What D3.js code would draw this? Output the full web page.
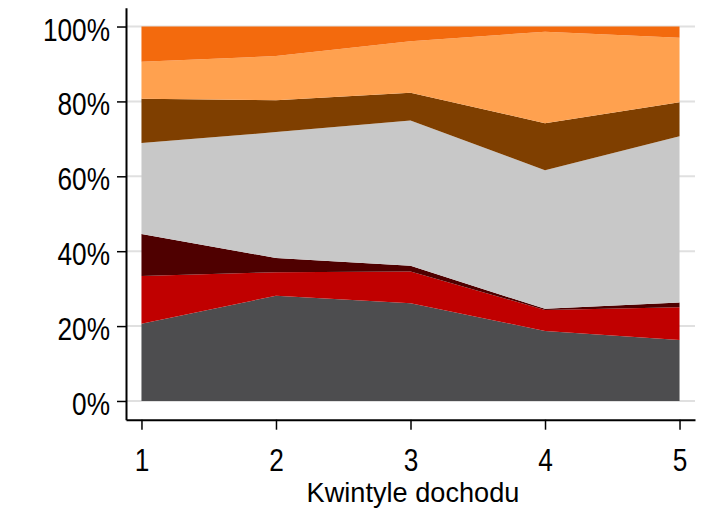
<!DOCTYPE html>
<html><head><meta charset="utf-8">
<script src="https://cdn.jsdelivr.net/npm/d3@7"></script>
<style>body{margin:0;background:#fff}svg{display:block}text{font-family:"Liberation Sans",Arial,sans-serif;fill:#000}</style>
</head><body><svg id="c" width="718" height="518"></svg>
<script>
const quintiles = [1, 2, 3, 4, 5];
const seriesNames = ["s1", "s2", "s3", "s4", "s5", "s6", "s7"];
const s1 = [20.6, 28.1, 26.1, 18.7, 16.3];
const s2 = [12.8, 6.3, 8.5, 5.6, 8.7];
const s3 = [11.2, 3.8, 1.5, 0.3, 1.3];
const s4 = [24.3, 33.6, 38.8, 37.0, 44.4];
const s5 = [11.8, 8.5, 7.4, 12.6, 9.1];
const s6 = [9.9, 11.8, 13.8, 24.4, 17.2];
const s7 = [9.4, 7.9, 3.9, 1.4, 3.0];
const colors = ["#4d4d4f", "#c00000", "#4f0000", "#c8c8c8", "#7f3f00", "#ffa14f", "#f36a0d"];
const yTicks = [0, 20, 40, 60, 80, 100];
const yTickLabels = ["0%", "20%", "40%", "60%", "80%", "100%"];
const xTitle = "Kwintyle dochodu";

const allSeries = [s1, s2, s3, s4, s5, s6, s7];
const table = quintiles.map((q, i) => {
  const row = {q};
  seriesNames.forEach((n, j) => row[n] = allSeries[j][i]);
  return row;
});

const svg = d3.select("#c");
const x = d3.scaleLinear().domain([0.885, 5.115]).range([126, 695]);
const y = d3.scaleLinear().domain([-5, 105]).range([419.7, 7.8]);

// gridlines
svg.append("g").selectAll("line").data(yTicks).join("line")
  .attr("x1", x(0.885)).attr("x2", x(5.115))
  .attr("y1", d => y(d)).attr("y2", d => y(d))
  .attr("stroke", "#e0e0e0").attr("stroke-width", 2);

const stack = d3.stack().keys(seriesNames);
const layers = stack(table);
const area = d3.area().x(d => x(d.data.q)).y0(d => y(d[0])).y1(d => y(d[1]));
svg.append("g").selectAll("path").data(layers).join("path")
  .attr("d", area).attr("fill", (d, i) => colors[i]);

// y axis
const ya = svg.append("g").attr("transform", `translate(${x(0.885)},0)`)
  .call(d3.axisLeft(y).tickValues(yTicks).tickFormat((d, i) => yTickLabels[i]).tickSize(9).tickSizeOuter(0));
ya.select(".domain").attr("stroke", "#000").attr("stroke-width", 2);
ya.selectAll(".tick line").attr("stroke", "#000").attr("stroke-width", 1.5);
ya.selectAll(".tick text").attr("x", 0).attr("dy", null).attr("y", 13.5)
  .attr("transform", "translate(-16,0) scale(0.82,1)")
  .style("font-size", "32px").style("font-family", '"Liberation Sans",Arial,sans-serif').attr("fill", "#000");

// x axis
const xa = svg.append("g").attr("transform", `translate(0,${y(-5)})`)
  .call(d3.axisBottom(x).tickValues(quintiles).tickFormat(d3.format("d")).tickSize(10).tickSizeOuter(0));
xa.select(".domain").attr("stroke", "#000").attr("stroke-width", 2);
xa.selectAll(".tick line").attr("stroke", "#000").attr("stroke-width", 1.5);
xa.selectAll(".tick text").attr("dy", null).attr("y", 51).attr("x", 0).attr("transform", "scale(0.82,1)")
  .style("font-size", "32px").style("font-family", '"Liberation Sans",Arial,sans-serif').attr("fill", "#000");

svg.append("text").attr("transform", "translate(413,502) scale(0.97,1)")
  .attr("text-anchor", "middle").style("font-size", "28px").text(xTitle);
</script></body></html>
